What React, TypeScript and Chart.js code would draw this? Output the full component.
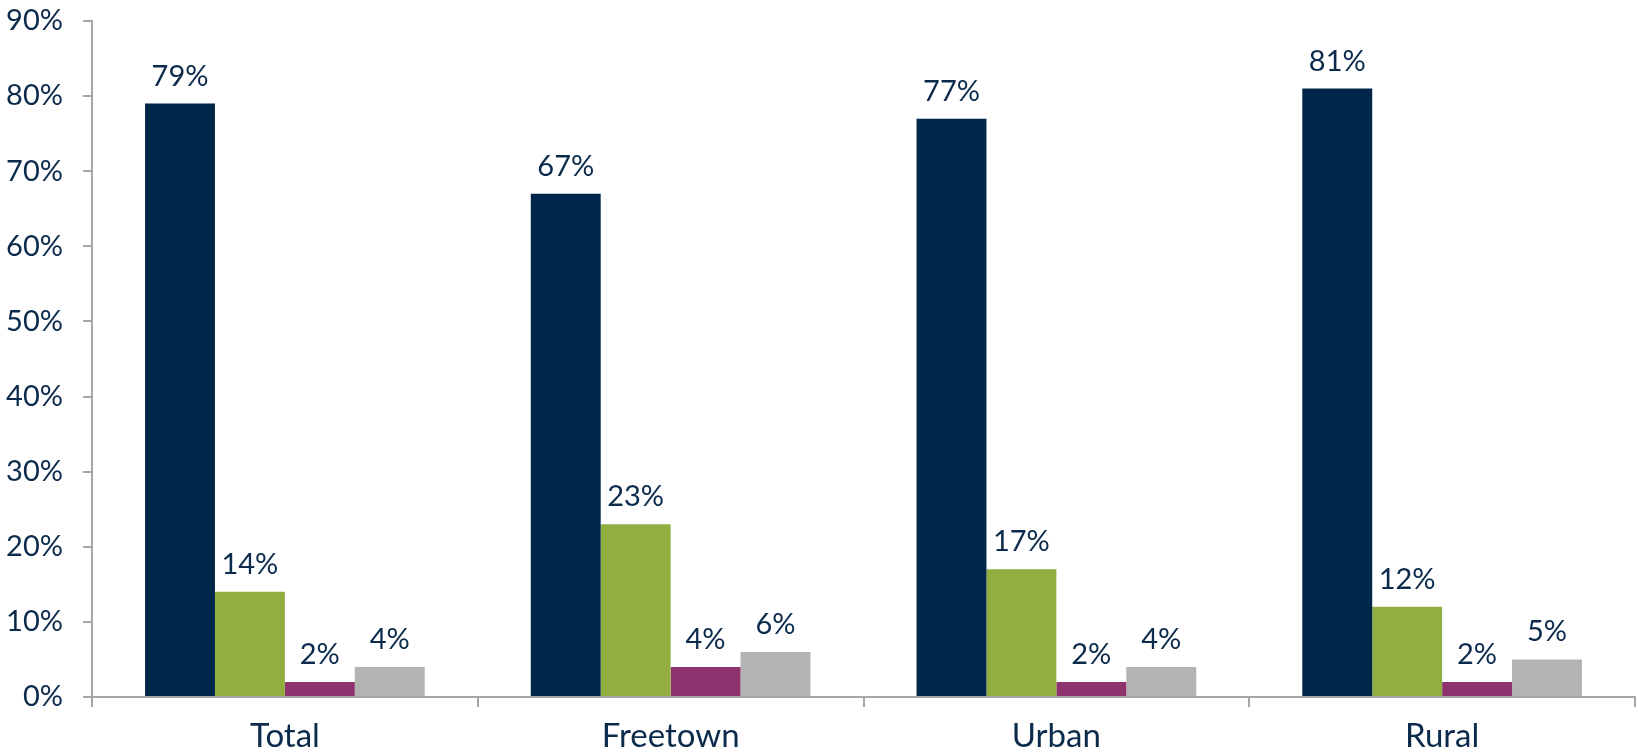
import React, { useEffect, useRef } from "react";
import { Chart, registerables } from "chart.js";

Chart.register(...registerables);

const categories = ["Total", "Freetown", "Urban", "Rural"];
const seriesA = [79, 67, 77, 81];
const seriesB = [14, 23, 17, 12];
const seriesC = [2, 4, 2, 2];
const seriesD = [4, 6, 4, 5];
const yTicks = [0, 10, 20, 30, 40, 50, 60, 70, 80, 90];

const TEXT = "#0B2A4C";
const AXIS = "#A6A6A6";
const FONT = "Lato, 'Open Sans', sans-serif";

const labelPlugin = {
  id: "valueLabels",
  afterDatasetsDraw(chart: any) {
    const ctx = chart.ctx;
    ctx.save();
    ctx.fillStyle = TEXT;
    ctx.font = `29px ${FONT}`;
    ctx.textAlign = "center";
    ctx.textBaseline = "alphabetic";
    chart.data.datasets.forEach((ds: any, i: number) => {
      const meta = chart.getDatasetMeta(i);
      meta.data.forEach((bar: any, j: number) => {
        ctx.fillText(ds.data[j] + "%", bar.x, bar.y - 18);
      });
    });
    ctx.restore();
  },
};

export default function App() {
  const ref = useRef<HTMLCanvasElement>(null);
  useEffect(() => {
    document.body.style.margin = "0";
    const chart = new Chart(ref.current!, {
      type: "bar",
      data: {
        labels: categories,
        datasets: [
          { data: seriesA, backgroundColor: "#002749" },
          { data: seriesB, backgroundColor: "#92AE40" },
          { data: seriesC, backgroundColor: "#8E336E" },
          { data: seriesD, backgroundColor: "#B3B3B3" },
        ],
      },
      options: {
        responsive: false,
        animation: false,
        layout: { padding: { top: 21, right: 3, left: 0, bottom: 0 } },
        plugins: { legend: { display: false }, tooltip: { enabled: false } },
        datasets: { bar: { categoryPercentage: 0.725, barPercentage: 1, borderWidth: 0 } },
        scales: {
          x: {
            grid: {
              offset: true,
              drawOnChartArea: false,
              drawTicks: true,
              tickLength: 10,
              color: AXIS,
              lineWidth: 2,
            },
            border: { display: true, color: AXIS, width: 2 },
            ticks: { color: TEXT, font: { family: FONT, size: 33 }, padding: 10 },
            afterFit: (s: any) => {
              s.height = 55;
              s.paddingLeft = 0;
              s.paddingRight = 0;
            },
          },
          y: {
            min: 0,
            max: 90,
            afterBuildTicks: (s: any) => {
              s.ticks = yTicks.map((v) => ({ value: v }));
            },
            grid: {
              drawOnChartArea: false,
              drawTicks: true,
              tickLength: 9,
              color: AXIS,
              lineWidth: 2,
            },
            border: { display: true, color: AXIS, width: 2 },
            ticks: {
              color: TEXT,
              font: { family: FONT, size: 29 },
              padding: 20,
              callback: (v: any) => v + "%",
            },
            afterFit: (s: any) => {
              s.width = 92;
              s.paddingTop = 0;
              s.paddingBottom = 0;
            },
          },
        },
      },
      plugins: [labelPlugin],
    });
    return () => chart.destroy();
  }, []);
  return <canvas ref={ref} width={1638} height={752} style={{ display: "block" }} />;
}
